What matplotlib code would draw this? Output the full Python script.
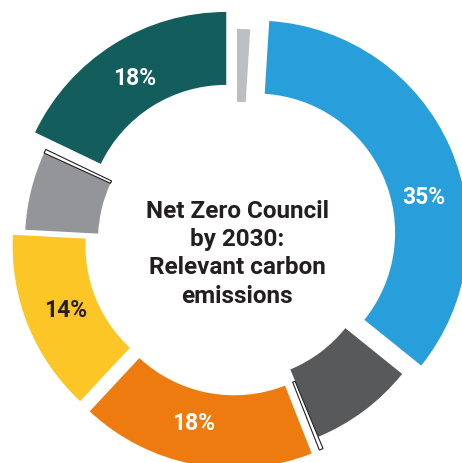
import matplotlib
matplotlib.use("Agg")
import matplotlib.pyplot as plt
import numpy as np

plt.rcParams['font.family'] = ['Roboto', 'DejaVu Sans']

# slices, clockwise from the top
names = ['Other (small)', 'Source A', 'Source B', 'Minor 1', 'Source C',
         'Source D', 'Source E', 'Minor 2', 'Source F']
shares = [1, 35, 8, 0.3, 18, 14, 6, 0.3, 18]
colors = ['#BDBEC2', '#289FDA', '#58595B', '#FFFFFF', '#EE7B10',
          '#FDC627', '#939598', '#FFFFFF', '#135E5D']
label_colors = ['white', 'white', 'white', 'white', 'white',
                '#231F20', 'white', 'white', 'white']
explode = [0, 0.098, 0, 0.06, 0.073, 0.063, 0, 0, 0.095]
hairline = [False, False, False, True, False, False, False, True, False]
# some labels sit a little clockwise of the slice middle (degrees)
label_shift = [0, -12, 0, 0, -3, 0, 0, 0, 0]

center_title = 'Net Zero Council\nby 2030:\nRelevant carbon\nemissions'

fig = plt.figure(figsize=(4.62, 4.63), dpi=100)
ax = fig.add_axes([0, 0, 1, 1])

pct_dist = 0.81
wedges, texts, autotexts = ax.pie(
    shares, colors=colors, explode=explode, startangle=90, counterclock=False,
    autopct=lambda p: f'{p:.0f}%' if p > 10 else '', pctdistance=pct_dist,
    wedgeprops=dict(width=0.344, linewidth=0),
    textprops=dict(fontsize=16.5, fontweight='bold'))

for w, thin in zip(wedges, hairline):
    if thin:
        w.set_edgecolor('#231F20')
        w.set_linewidth(0.8)

for w, t, c, s in zip(wedges, autotexts, label_colors, label_shift):
    t.set_color(c)
    if s:
        ang = np.deg2rad((w.theta1 + w.theta2) / 2 + s)
        cx, cy = w.center
        t.set_position((cx + pct_dist * np.cos(ang), cy + pct_dist * np.sin(ang)))

ax.text(0, -0.06, center_title, ha='center', va='center', fontsize=17.5,
        fontweight='bold', color='#231F20', linespacing=1.3)

ax.set_aspect('equal')
ax.set_xlim(-237 / 212, 225 / 212)
ax.set_ylim(-222 / 212, 241 / 212)
ax.axis('off')

fig.savefig('out.png', dpi=100)
